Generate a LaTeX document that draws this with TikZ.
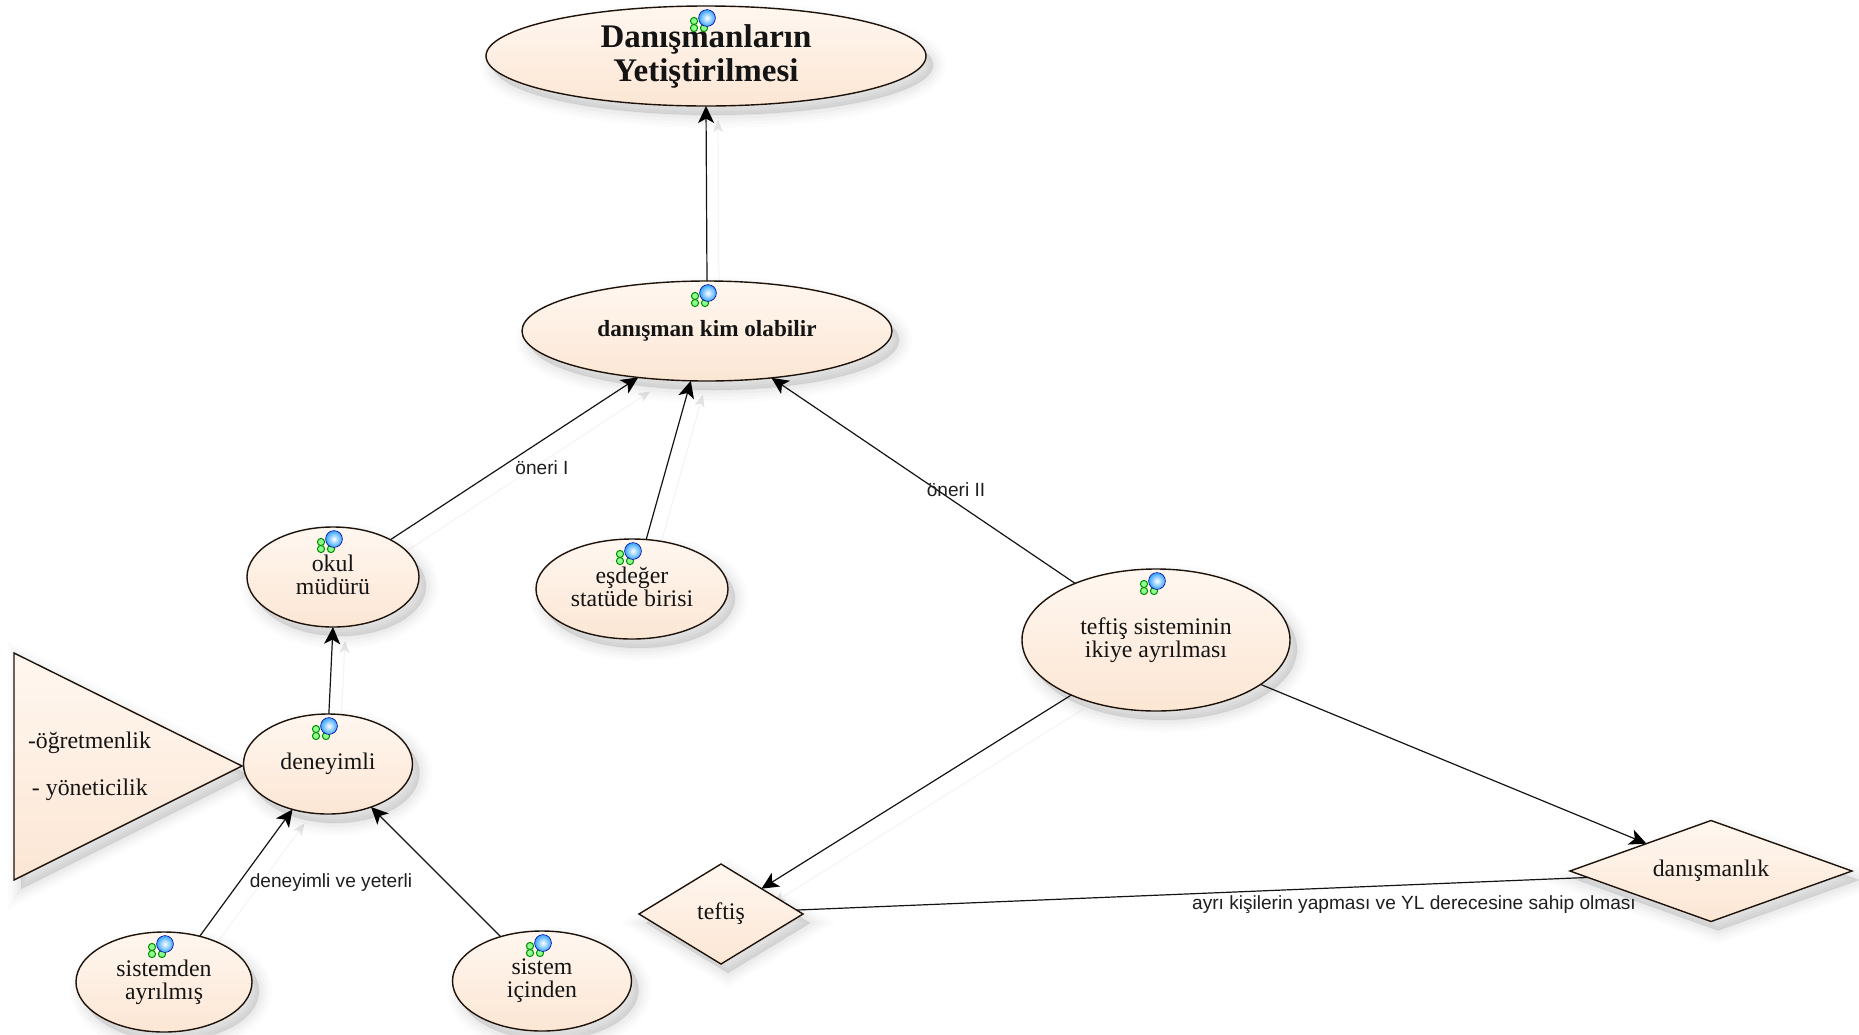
\documentclass[tikz,border=0pt]{standalone}
\usepackage{fontspec}
\setmainfont{Liberation Serif}
\newfontfamily\labelfont{Liberation Sans}
\usetikzlibrary{shapes.geometric,arrows.meta}
\pgfdeclarelayer{bg}
\pgfsetlayers{bg,main}
\newcommand{\upbit}[1]{\raisebox{2.4pt}{#1}}
\tikzset{
  softshadow/.style={
    preaction={fill=black,draw=black,line width=13pt,opacity=.012,transform canvas={xshift=3.5pt,yshift=-4.5pt}},
    preaction={fill=black,draw=black,line width=10pt,opacity=.014,transform canvas={xshift=3.5pt,yshift=-4.5pt}},
    preaction={fill=black,draw=black,line width=7pt,opacity=.018,transform canvas={xshift=3.5pt,yshift=-4.5pt}},
    preaction={fill=black,draw=black,line width=4pt,opacity=.022,transform canvas={xshift=3.5pt,yshift=-4.5pt}},
    preaction={fill=black,draw=black,line width=1pt,opacity=.025,transform canvas={xshift=3.5pt,yshift=-4.5pt}}},
  peach/.style={draw=black!85!brown,line width=.7pt,top color=peachA,bottom color=peachB},
  oval/.style={ellipse,peach,softshadow,inner sep=0pt,outer sep=0pt,align=center,text=black!92,font=\fontsize{11.9}{11.6}\selectfont},
  rhomb/.style={diamond,peach,softshadow,aspect=1.65,inner sep=0pt,outer sep=0pt,align=center,text=black!92,font=\fontsize{11.9}{11.6}\selectfont},
  titlefont/.style={font=\fontsize{16.5}{17}\selectfont\bfseries},
  boldfont/.style={font=\fontsize{11.6}{12}\selectfont\bfseries},
  link/.style={line width=.6pt,draw=black!92},
  arrowlink/.style={link,-{Stealth[length=8.5pt,width=8pt,inset=2.2pt,color=black]}},
  ghost/.style={line width=.6pt,draw=black!4,-{Stealth[length=6pt,width=5pt,inset=1.5pt,color=black!10]},transform canvas={xshift=6pt,yshift=-7pt}},
  lbl/.style={inner sep=0pt,outer sep=0pt,text=black!88,font=\labelfont\fontsize{9.55}{11}\selectfont},
  tritext/.style={inner sep=0pt,outer sep=0pt,anchor=west,text=black!92,font=\fontsize{11.9}{13}\selectfont},
  icon/.pic={
    \fill[green!45!white,draw=green!55!black,line width=.5pt] (-13,3) circle[radius=1.8pt];
    \fill[green!45!white,draw=green!55!black,line width=.5pt] (-13,10) circle[radius=1.8pt];
    \fill[green!45!white,draw=green!55!black,line width=.5pt] (-3,10) circle[radius=1.8pt];
    \shade[inner color=white,outer color=cyan!55!blue!80,draw=blue!60!black,line width=.3pt] (0,0) circle[radius=4.2pt];
  }
}
\definecolor{peachA}{HTML}{FFF7F0}
\definecolor{peachB}{HTML}{FCE6D4}
\begin{document}
\begin{tikzpicture}[x=.5pt,y=-.5pt]
\useasboundingbox (0,0) rectangle (1859,1034);
\begin{pgfonlayer}{bg}
\fill[white] (0,0) rectangle (1859,1034);
\end{pgfonlayer}

% triangle
\coordinate (t1) at (14,653);
\coordinate (t2) at (14,880);
\coordinate (t3) at (242,766);
\path[peach,softshadow] (t1) -- (t3) -- (t2) -- cycle;
\node[tritext] (tr1) at (28,743) {-öğretmenlik};
\node[tritext] (tr2) at (32,790) {- yöneticilik};

% ovals
\node[oval,titlefont,minimum width=220pt,minimum height=50pt] (top) at (706,56) {Danışmanların\\Yetiştirilmesi};
\node[oval,boldfont,minimum width=185pt,minimum height=50pt] (dan) at (707,331) {danışman kim olabilir};
\node[oval,minimum width=86pt,minimum height=50pt] (okul) at (333,577) {\upbit{okul}\\\upbit{müdürü}};
\node[oval,minimum width=96pt,minimum height=50pt] (esd) at (632,589) {\upbit{eşdeğer}\\\upbit{statüde birisi}};
\node[oval,minimum width=134pt,minimum height=71pt] (sis) at (1156,640) {teftiş sisteminin\\ikiye ayrılması};
\node[oval,minimum width=84.5pt,minimum height=50pt] (den) at (328,764) {deneyimli};
\node[oval,minimum width=88pt,minimum height=50pt] (ayr) at (164,982) {sistemden\\ayrılmış};
\node[oval,minimum width=89.5pt,minimum height=50pt] (ici) at (542,981) {sistem\\içinden};

% diamonds
\node[rhomb,minimum width=82pt,minimum height=50pt] (tef) at (721,914) {teftiş};
\node[rhomb,minimum width=141pt,minimum height=50.5pt] (dsm) at (1711,871) {danışmanlık};

% icons
\foreach \n in {top,dan,okul,esd,sis,den,ayr,ici}
  \pic at ([shift={(1,12)}]\n.north) {icon};

% faint connector shadows
\begin{pgfonlayer}{bg}
\draw[ghost] (dan.north) -- (top.south);
\draw[ghost] (okul.33) -- (dan.214.4);
\draw[ghost] (esd.74) -- (dan.252.6);
\draw[ghost] (den.89) -- (okul.270);
\draw[ghost] (ayr.52) -- (den.232.7);
\draw[ghost] (sis.213.4) -- (tef.32.7);
\end{pgfonlayer}

% connectors
\draw[arrowlink] (dan.north) -- (top.south);
\draw[arrowlink] (okul.33) -- (dan.214.4);
\draw[arrowlink] (esd.74) -- (dan.252.6);
\draw[arrowlink] (sis.145.5) -- (dan.324.8);
\draw[arrowlink] (den.89) -- (okul.270);
\draw[arrowlink] (ayr.52) -- (den.232.7);
\draw[arrowlink] (ici.133) -- (den.315);
\draw[arrowlink] (sis.213.4) -- (tef.32.7);
\draw[arrowlink] (sis.337.2) -- (dsm.157.8);
\draw[link] (tef.3) -- (dsm.183.5);

% labels
\node[lbl] (l1) at (542,468) {öneri I};
\node[lbl] (l2) at (956,490) {öneri II};
\node[lbl] (l3) at (331,883) {deneyimli ve yeterli};
\node[lbl] (l4) at (1414,905) {ayrı kişilerin yapması ve YL derecesine sahip olması};
\end{tikzpicture}
\end{document}
